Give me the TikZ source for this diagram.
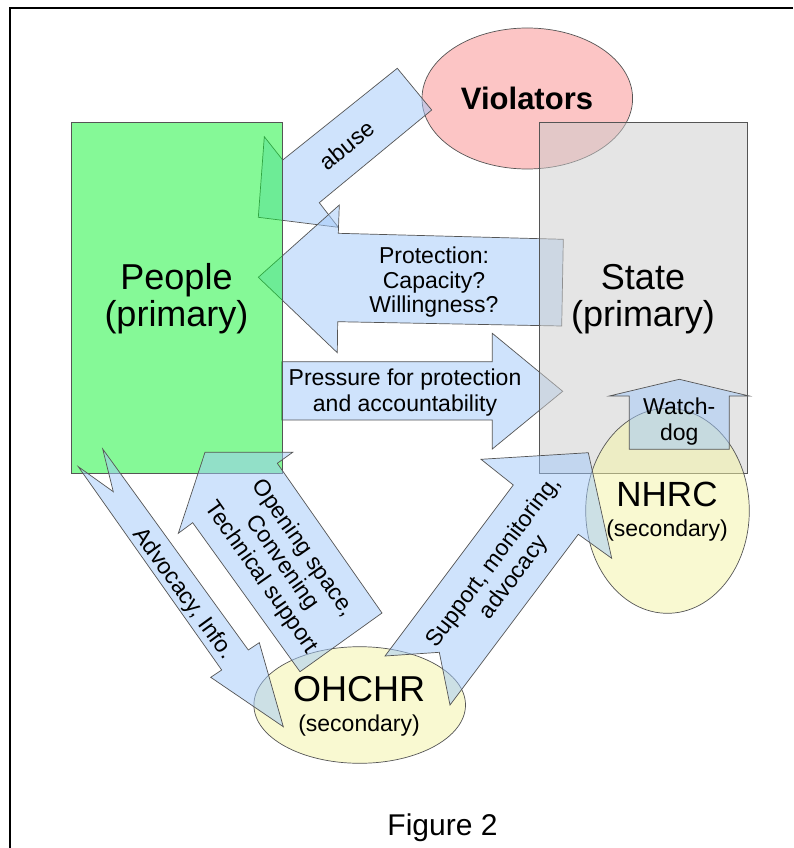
\documentclass[tikz,border=0pt]{standalone}
\usepackage{fontspec}
\setmainfont{Liberation Sans}
\usetikzlibrary{shapes.geometric}
\definecolor{arrowblue}{RGB}{160,200,250}
\definecolor{peoplegreen}{RGB}{13,245,49}
\definecolor{stategray}{RGB}{204,204,204}
\definecolor{violpink}{RGB}{252,197,197}
\definecolor{secyellow}{RGB}{245,245,165}
\definecolor{edgegray}{RGB}{85,85,85}
\begin{document}
\begin{tikzpicture}[x=1pt,y=-1pt,
  blockarrow/.style={draw=edgegray, line width=0.7pt, fill=arrowblue, fill opacity=0.5, line join=miter},
  boxnode/.style={rectangle, draw=edgegray, line width=0.8pt, inner sep=0pt},
  ovalnode/.style={ellipse, draw=edgegray, line width=0.7pt, inner sep=0pt},
  lbl/.style={font=\fontsize{23}{25.5}\selectfont, inner sep=0pt, align=center},
  big/.style={font=\fontsize{36}{37}\selectfont, inner sep=0pt, anchor=base},
  small/.style={font=\fontsize{23}{25.5}\selectfont, inner sep=0pt, anchor=base}
]
\useasboundingbox (0,0) rectangle (793,848);
\fill[white] (0,0) rectangle (793,848);
% frame
\draw[line width=2pt, black] (9.7,848) -- (9.7,8.3) -- (793,8.3);

% violators
\node[ovalnode, fill=violpink, minimum width=210.6pt, minimum height=141pt] (viol) at (527.3,98.5) {};

% arrows underneath the People/State boxes
\draw[blockarrow] (397.3,68.3) -- (431.7,110) -- (319.3,202.7) -- (338.3,227.3) -- (258.3,217.3) -- (264.3,136.7) -- (282.7,160) -- cycle;
\draw[blockarrow] (563.3,239.3) -- (561.7,326) -- (337.7,321.7) -- (337.3,352.7) -- (258.3,277.3) -- (339.3,205) -- (338.3,233.3) -- cycle;
\draw[blockarrow] (281.7,361.7) -- (492.3,361.7) -- (492.3,333.3) -- (562.7,391.3) -- (492.3,449) -- (492.3,420) -- (281.7,420) -- cycle;

% primary boxes
\node[boxnode, fill=peoplegreen, fill opacity=0.5, minimum width=211pt, minimum height=351pt] (people) at (176.5,297.5) {};
\node[boxnode, fill=stategray, fill opacity=0.5, minimum width=208pt, minimum height=351pt] (state) at (643,297.5) {};

% secondary ovals
\node[ovalnode, fill=secyellow, fill opacity=0.5, minimum width=163.6pt, minimum height=205pt] (nhrc) at (667.5,510.8) {};
\node[ovalnode, fill=secyellow, fill opacity=0.5, minimum width=211.6pt, minimum height=116.6pt] (ohchr) at (359.7,705) {};

% arrows on top
\draw[blockarrow] (78.3,466.7) -- (221.7,670) -- (210.7,677.3) -- (283.3,726.7) -- (259.3,642.7) -- (248.3,650) -- (102.7,449) -- (113.3,491.7) -- cycle;
\draw[blockarrow] (300,671.7) -- (192.7,522.7) -- (178.3,533.3) -- (205,452.3) -- (292.7,452.3) -- (277.3,463.3) -- (382,613) -- cycle;
\draw[blockarrow] (385,656) -- (513.3,485) -- (481,459.3) -- (588.3,452.7) -- (611.7,558.3) -- (578.3,534.3) -- (450,705) -- (439.3,652.3) -- cycle;
\draw[blockarrow] (629.3,449.3) -- (629.3,396) -- (609.3,396) -- (679.3,379.3) -- (749.3,396) -- (729.3,396) -- (729.3,449.3) -- cycle;

% texts
\node[font=\fontsize{31}{31}\selectfont\bfseries, inner sep=0pt, anchor=base] (violt) at (527,109.3) {Violators};
\node[big] (peoplet1) at (176.5,289.3) {People};
\node[big] (peoplet2) at (176.5,326) {(primary)};
\node[big] (statet1) at (643,289.3) {State};
\node[big] (statet2) at (643,326) {(primary)};
\node[font=\fontsize{35}{35}\selectfont, inner sep=0pt, anchor=base] (nhrct) at (667,506.7) {NHRC};
\node[small] (nhrcs) at (667,536.5) {(secondary)};
\node[font=\fontsize{36}{36}\selectfont, inner sep=0pt, anchor=base] (ohchrt) at (359.2,701.7) {OHCHR};
\node[small] (ohchrs) at (359,731) {(secondary)};

\node[small] (prot1) at (434,263.3) {Protection:};
\node[small] (prot2) at (434,288) {Capacity?};
\node[small] (prot3) at (434,312.7) {Willingness?};
\node[small] (press1) at (405,385) {Pressure for protection};
\node[small] (press2) at (405,411.7) {and accountability};
\node[small] (watch1) at (679.2,414) {Watch-};
\node[small] (watch2) at (679.2,440.7) {dog};

\node[lbl, rotate=39] (abuset) at (346.7,145) {abuse};
\node[lbl, rotate=-54] (advt) at (183,594) {Advocacy, Info.};
\node[lbl, rotate=-55] (opent) at (282,563) {Opening space,\\Convening\\Technical support};
\node[lbl, rotate=53] (suppt) at (504,570) {Support, monitoring,\\advocacy};

\node[font=\fontsize{30}{30}\selectfont, inner sep=0pt, anchor=base] (fig) at (442.5,835) {Figure 2};
\end{tikzpicture}
\end{document}
